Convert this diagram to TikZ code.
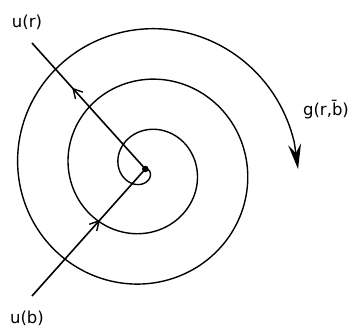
\documentclass[tikz,border=0pt]{standalone}
\usepackage{fontspec}
\setmainfont{DejaVu Sans}
\usetikzlibrary{arrows.meta,decorations.markings,calc}

\tikzset{
  lbl/.style={inner sep=0pt, font=\fontsize{16.5}{20}\selectfont},
  ray/.style={line width=1.6pt},
  midarrow/.style={postaction={decorate}, decoration={markings,
      mark=at position #1 with {\arrow{Straight Barb[length=9pt,width=10pt,line width=1.4pt]}}}}
}

\begin{document}
\begin{tikzpicture}[x=1pt, y=-1pt]
\useasboundingbox (0,0) rectangle (352,329);

\coordinate (c) at (145.3,169);
\coordinate (ur) at (32,43);
\coordinate (ub) at (32,296);
\coordinate (send) at ($(c)+(1080:{1+0.1405*1080})$);

\node[lbl] (urlbl) at (27,22) {u(r)};
\node[lbl] (ublbl) at (27,318) {u(b)};
\node[lbl] (glbl) at (326,110) {g(r,b̄)};

\begin{scope}[shift={(c)}]
\draw[line width=1.4pt, -{Stealth[length=25pt,width=13pt,inset=9pt]}]
  plot[domain=0:1070, samples=400, smooth] (\x:{1+0.1405*\x}) -- (send);
\end{scope}

\draw[ray, midarrow=0.645] (c) -- (ur);
\draw[ray, midarrow=0.6] (ub) -- (c);

\fill (c) circle (3.3);
\end{tikzpicture}
\end{document}
